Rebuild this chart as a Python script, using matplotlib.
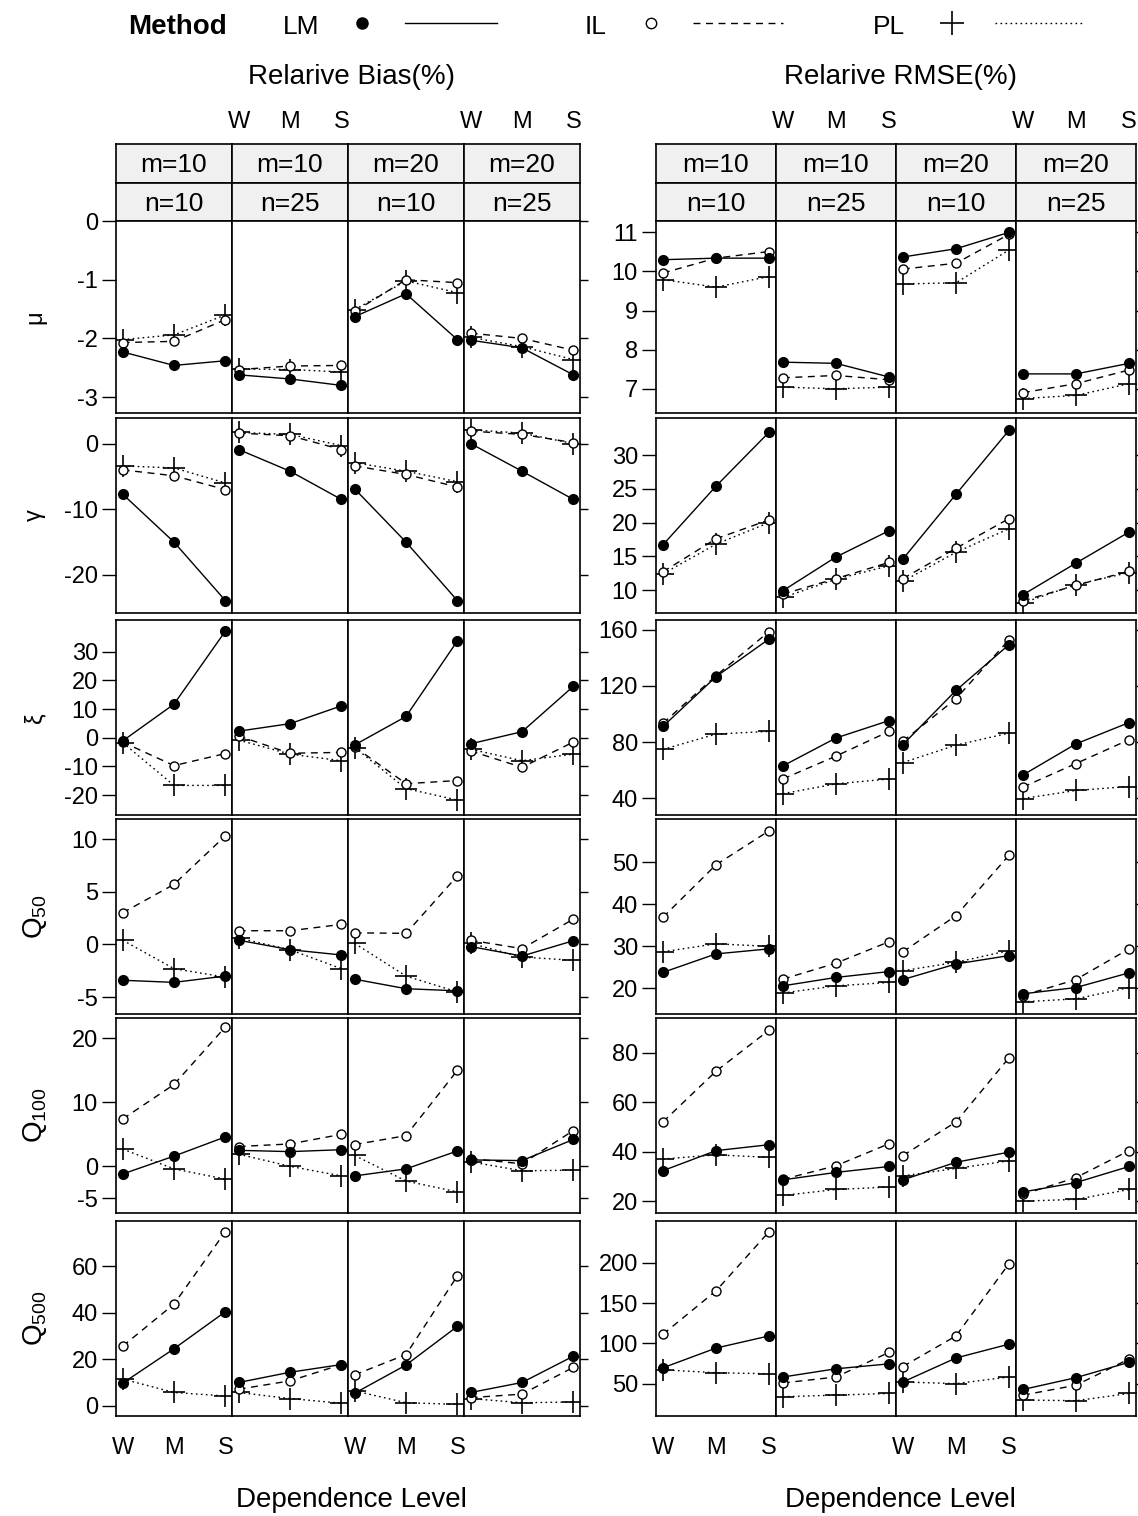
import matplotlib.pyplot as plt
from matplotlib.lines import Line2D

plt.rcParams['font.family'] = ['Liberation Sans', 'DejaVu Sans']
plt.rcParams['mathtext.fontset'] = 'custom'
plt.rcParams['mathtext.rm'] = 'Liberation Sans'
plt.rcParams['mathtext.it'] = 'Liberation Sans'
plt.rcParams['axes.unicode_minus'] = False

levels = ['W', 'M', 'S']
methods = ['LM', 'IL', 'PL']
m_labels = ['m=10', 'm=10', 'm=20', 'm=20']
n_labels = ['n=10', 'n=25', 'n=10', 'n=25']
row_labels = ['μ', 'γ', 'ξ', r'$\mathrm{Q}_{50}$', r'$\mathrm{Q}_{100}$', r'$\mathrm{Q}_{500}$']

# relative bias (%), one [W, M, S] list per setting (m10n10, m10n25, m20n10, m20n25)
bias_mu_lm = [[-2.23, -2.46, -2.38], [-2.62, -2.69, -2.80], [-1.63, -1.24, -2.02], [-2.03, -2.16, -2.62]]
bias_mu_il = [[-2.07, -2.05, -1.68], [-2.53, -2.47, -2.46], [-1.54, -1.00, -1.05], [-1.91, -2.00, -2.20]]
bias_mu_pl = [[-2.02, -1.94, -1.60], [-2.52, -2.53, -2.57], [-1.51, -1.02, -1.22], [-1.98, -2.14, -2.36]]

bias_gamma_lm = [[-7.7, -15.0, -23.9], [-0.9, -4.2, -8.5], [-6.9, -15.0, -23.9], [0.0, -4.2, -8.5]]
bias_gamma_il = [[-4.0, -4.9, -7.0], [1.6, 1.2, -0.9], [-3.4, -4.7, -6.6], [1.9, 1.4, 0.15]]
bias_gamma_pl = [[-3.4, -3.7, -6.0], [1.7, 1.4, -0.3], [-2.9, -4.2, -5.8], [2.1, 1.6, 0.0]]

bias_xi_lm = [[-1.1, 11.7, 37.1], [2.3, 4.9, 11.1], [-2.5, 7.4, 33.7], [-2.1, 2.1, 17.9]]
bias_xi_il = [[-1.5, -9.7, -5.5], [0.6, -5.4, -5.1], [-3.2, -16.0, -14.9], [-4.6, -10.3, -1.5]]
bias_xi_pl = [[-1.7, -16.6, -16.6], [-0.8, -5.7, -8.0], [-3.4, -17.7, -21.7], [-4.0, -8.0, -5.7]]

bias_q50_lm = [[-3.4, -3.6, -3.0], [0.4, -0.5, -1.0], [-3.3, -4.2, -4.4], [-0.2, -1.1, 0.35]]
bias_q50_il = [[3.0, 5.7, 10.3], [1.3, 1.3, 1.9], [1.1, 1.05, 6.5], [0.4, -0.4, 2.4]]
bias_q50_pl = [[0.4, -2.3, -3.1], [0.6, -0.5, -2.3], [0.1, -3.0, -4.5], [0.1, -1.2, -1.5]]

bias_q100_lm = [[-1.2, 1.6, 4.6], [2.5, 2.3, 2.6], [-1.5, -0.4, 2.4], [1.0, 0.9, 4.2]]
bias_q100_il = [[7.4, 12.8, 21.8], [3.1, 3.5, 5.0], [3.4, 4.8, 15.0], [1.2, 0.4, 5.6]]
bias_q100_pl = [[2.7, -0.4, -2.0], [1.9, 0.0, -1.5], [1.7, -2.3, -4.0], [0.7, -0.7, -0.6]]

bias_q500_lm = [[9.8, 24.6, 40.5], [10.1, 14.5, 17.8], [5.5, 17.6, 34.2], [5.8, 10.1, 21.4]]
bias_q500_il = [[25.7, 43.8, 74.9], [7.2, 10.8, 17.8], [13.4, 22.1, 55.9], [3.6, 5.1, 16.6]]
bias_q500_pl = [[11.6, 5.8, 4.3], [5.8, 3.2, 1.2], [6.5, 1.4, 0.7], [3.2, 1.4, 1.7]]

# relative RMSE (%)
rmse_mu_lm = [[10.30, 10.34, 10.34], [7.68, 7.65, 7.30], [10.37, 10.58, 11.00], [7.38, 7.38, 7.65]]
rmse_mu_il = [[9.96, 10.34, 10.51], [7.28, 7.34, 7.23], [10.06, 10.21, 10.95], [6.90, 7.13, 7.48]]
rmse_mu_pl = [[9.79, 9.60, 9.87], [7.04, 7.00, 7.04], [9.68, 9.71, 10.55], [6.75, 6.83, 7.13]]

rmse_gamma_lm = [[16.7, 25.4, 33.4], [9.9, 14.9, 18.8], [14.6, 24.2, 33.7], [9.3, 14.0, 18.6]]
rmse_gamma_il = [[12.7, 17.6, 20.4], [9.4, 11.7, 14.1], [11.7, 16.2, 20.6], [8.4, 10.7, 12.8]]
rmse_gamma_pl = [[12.4, 16.8, 20.0], [8.9, 11.6, 13.6], [11.3, 15.6, 19.1], [8.1, 10.8, 12.6]]

rmse_xi_lm = [[91.1, 126.6, 153.5], [63.0, 82.9, 95.3], [78.2, 116.8, 149.5], [56.5, 78.7, 93.9]]
rmse_xi_il = [[93.4, 127.3, 158.8], [53.7, 70.0, 87.6], [80.6, 110.9, 153.0], [47.9, 64.7, 81.7]]
rmse_xi_pl = [[74.7, 85.7, 87.6], [43.2, 50.2, 53.7], [65.4, 77.8, 86.4], [39.7, 45.5, 48.3]]

rmse_q50_lm = [[23.8, 28.2, 29.4], [20.6, 22.6, 24.0], [22.1, 25.8, 27.8], [18.7, 20.2, 23.7]]
rmse_q50_il = [[36.9, 49.4, 57.5], [22.2, 26.0, 31.1], [28.7, 37.3, 51.7], [18.3, 22.1, 29.4]]
rmse_q50_pl = [[28.7, 30.6, 30.0], [18.9, 20.6, 21.4], [24.2, 26.2, 29.0], [16.8, 17.5, 20.2]]

rmse_q100_lm = [[32.3, 40.4, 42.8], [28.6, 31.6, 34.0], [28.6, 35.7, 39.8], [23.7, 27.5, 34.0]]
rmse_q100_il = [[52.0, 72.5, 89.1], [28.8, 34.3, 43.2], [38.4, 52.0, 78.0], [22.7, 29.5, 40.4]]
rmse_q100_pl = [[37.0, 38.7, 37.7], [22.3, 24.7, 25.7], [30.2, 33.2, 36.3], [20.0, 20.7, 24.7]]

rmse_q500_lm = [[69.8, 94.3, 109.4], [58.4, 68.6, 74.7], [52.2, 82.0, 99.2], [42.9, 57.6, 76.7]]
rmse_q500_il = [[111.4, 165.3, 238.8], [51.0, 58.4, 89.0], [71.4, 109.4, 199.2], [35.9, 48.2, 80.8]]
rmse_q500_pl = [[67.3, 63.7, 62.4], [33.9, 35.9, 38.0], [52.2, 50.2, 58.4], [29.8, 29.0, 38.0]]

bias_rows = [(bias_mu_lm, bias_mu_il, bias_mu_pl),
             (bias_gamma_lm, bias_gamma_il, bias_gamma_pl),
             (bias_xi_lm, bias_xi_il, bias_xi_pl),
             (bias_q50_lm, bias_q50_il, bias_q50_pl),
             (bias_q100_lm, bias_q100_il, bias_q100_pl),
             (bias_q500_lm, bias_q500_il, bias_q500_pl)]
rmse_rows = [(rmse_mu_lm, rmse_mu_il, rmse_mu_pl),
             (rmse_gamma_lm, rmse_gamma_il, rmse_gamma_pl),
             (rmse_xi_lm, rmse_xi_il, rmse_xi_pl),
             (rmse_q50_lm, rmse_q50_il, rmse_q50_pl),
             (rmse_q100_lm, rmse_q100_il, rmse_q100_pl),
             (rmse_q500_lm, rmse_q500_il, rmse_q500_pl)]

bias_ticks = [[-3, -2, -1, 0], [-20, -10, 0], [-20, -10, 0, 10, 20, 30],
              [-5, 0, 5, 10], [-5, 0, 10, 20], [0, 20, 40, 60]]
rmse_ticks = [[7, 8, 9, 10, 11], [10, 15, 20, 25, 30], [40, 80, 120, 160],
              [20, 30, 40, 50], [20, 40, 60, 80], [50, 100, 150, 200]]
bias_lims = [(-3.27, 0.0), (-25.8, 3.9), (-26.9, 41), (-6.6, 11.9), (-7.3, 23.2), (-4.3, 79.5)]
rmse_lims = [(6.38, 11.29), (6.6, 35.5), (28, 167), (13.9, 60.3), (15.2, 94), (10, 252)]

W, H = 1138, 1516
fig = plt.figure(figsize=(W / 100, H / 100), dpi=100)


def box(x0, y0, x1, y1):
    # pixel box (top-left origin) -> figure rect
    return [x0 / W, 1 - y1 / H, (x1 - x0) / W, (y1 - y0) / H]


styles = {
    'PL': dict(color='black', lw=1.0, ls=(0, (1.2, 2.4)), marker='+', ms=16, mew=1.2),
    'IL': dict(color='black', lw=1.0, ls=(0, (5, 4)), marker='o', ms=6.5, mfc='white', mew=1.0),
    'LM': dict(color='black', lw=1.0, ls='-', marker='o', ms=7, mfc='black'),
}

row_px = [(221, 413), (418, 613), (620, 815), (819, 1014), (1018, 1213), (1221, 1416)]
xlim = (0.87, 3.13)
x = [1, 2, 3]

panels = [(116, 580, bias_rows, bias_ticks, bias_lims, 351, 'Relarive Bias(%)'),
          (656, 1136, rmse_rows, rmse_ticks, rmse_lims, 900, 'Relarive RMSE(%)')]

for px0, px1, rows, ticks, lims, cx, title in panels:
    cw = (px1 - px0) / 4
    fig.text(cx / W, 1 - 77 / H, title, ha='center', va='center', fontsize=20)
    fig.text(cx / W, 1 - 1500 / H, 'Dependence Level', ha='center', va='center', fontsize=20)
    for c in range(4):
        cx0, cx1 = px0 + c * cw, px0 + (c + 1) * cw
        # strips
        for k, (sy0, sy1, lab) in enumerate([(144, 182.5, m_labels[c]), (182.5, 221, n_labels[c])]):
            sax = fig.add_axes(box(cx0, sy0, cx1, sy1))
            sax.set_facecolor('#f0f0f0')
            sax.set_xlim(xlim)
            sax.set_yticks([])
            sax.text(0.5, 0.45, lab, transform=sax.transAxes, ha='center', va='center', fontsize=19)
            for s in sax.spines.values():
                s.set_linewidth(1.2)
            if k == 0 and c % 2 == 1:
                sax.xaxis.tick_top()
                sax.set_xticks(x)
                sax.set_xticklabels(levels, fontsize=17)
                sax.tick_params(axis='x', length=0, pad=8)
            else:
                sax.set_xticks([])
        for r, (ry0, ry1) in enumerate(row_px):
            ax = fig.add_axes(box(cx0, ry0, cx1, ry1))
            for m, name in enumerate(methods[::-1]):
                series = rows[r][2 - m]
                ax.plot(x, series[c], **styles[name])
            ax.set_xlim(xlim)
            ax.set_ylim(lims[r])
            ax.set_yticks(ticks[r])
            for s in ax.spines.values():
                s.set_linewidth(1.2)
            if c == 0:
                ax.tick_params(axis='y', direction='out', length=10, width=1.0, pad=3, labelsize=17)
            elif c == 3:
                ax.yaxis.tick_right()
                ax.tick_params(axis='y', direction='out', length=6, width=1.0, labelright=False)
            else:
                ax.tick_params(axis='y', length=0, labelleft=False)
            if r == 5 and c % 2 == 0:
                ax.set_xticks(x)
                ax.set_xticklabels(levels, fontsize=17)
                ax.tick_params(axis='x', length=0, pad=15)
            else:
                ax.set_xticks([])

# row labels (left panel only)
for r, (ry0, ry1) in enumerate(row_px):
    fs = 17 if r < 3 else 20
    fig.text(35 / W, 1 - (ry0 + ry1) / 2 / H, row_labels[r], rotation=90,
             ha='center', va='center', fontsize=fs)

# legend on top
fig.text(128 / W, 1 - 27 / H, 'Method', fontsize=20, fontweight='bold', ha='left', va='center')
legend_items = [('LM', 283, 362, 405, 497), ('IL', 585, 651, 693, 783), ('PL', 873, 952, 995, 1085)]
for name, tx, mx, lx0, lx1 in legend_items:
    fig.text(tx / W, 1 - 27 / H, name, fontsize=19, ha='left', va='center')
    st = dict(styles[name])
    fig.add_artist(Line2D([mx / W], [1 - 23 / H], transform=fig.transFigure,
                          color='black', marker=st['marker'], ms=st['ms'] + 1,
                          mfc=st.get('mfc', 'black'), mew=st.get('mew', 1.0), ls='none'))
    fig.add_artist(Line2D([lx0 / W, lx1 / W], [1 - 23 / H, 1 - 23 / H], transform=fig.transFigure,
                          color='black', lw=1.0, ls=st['ls']))

fig.savefig('out.png', dpi=100)
